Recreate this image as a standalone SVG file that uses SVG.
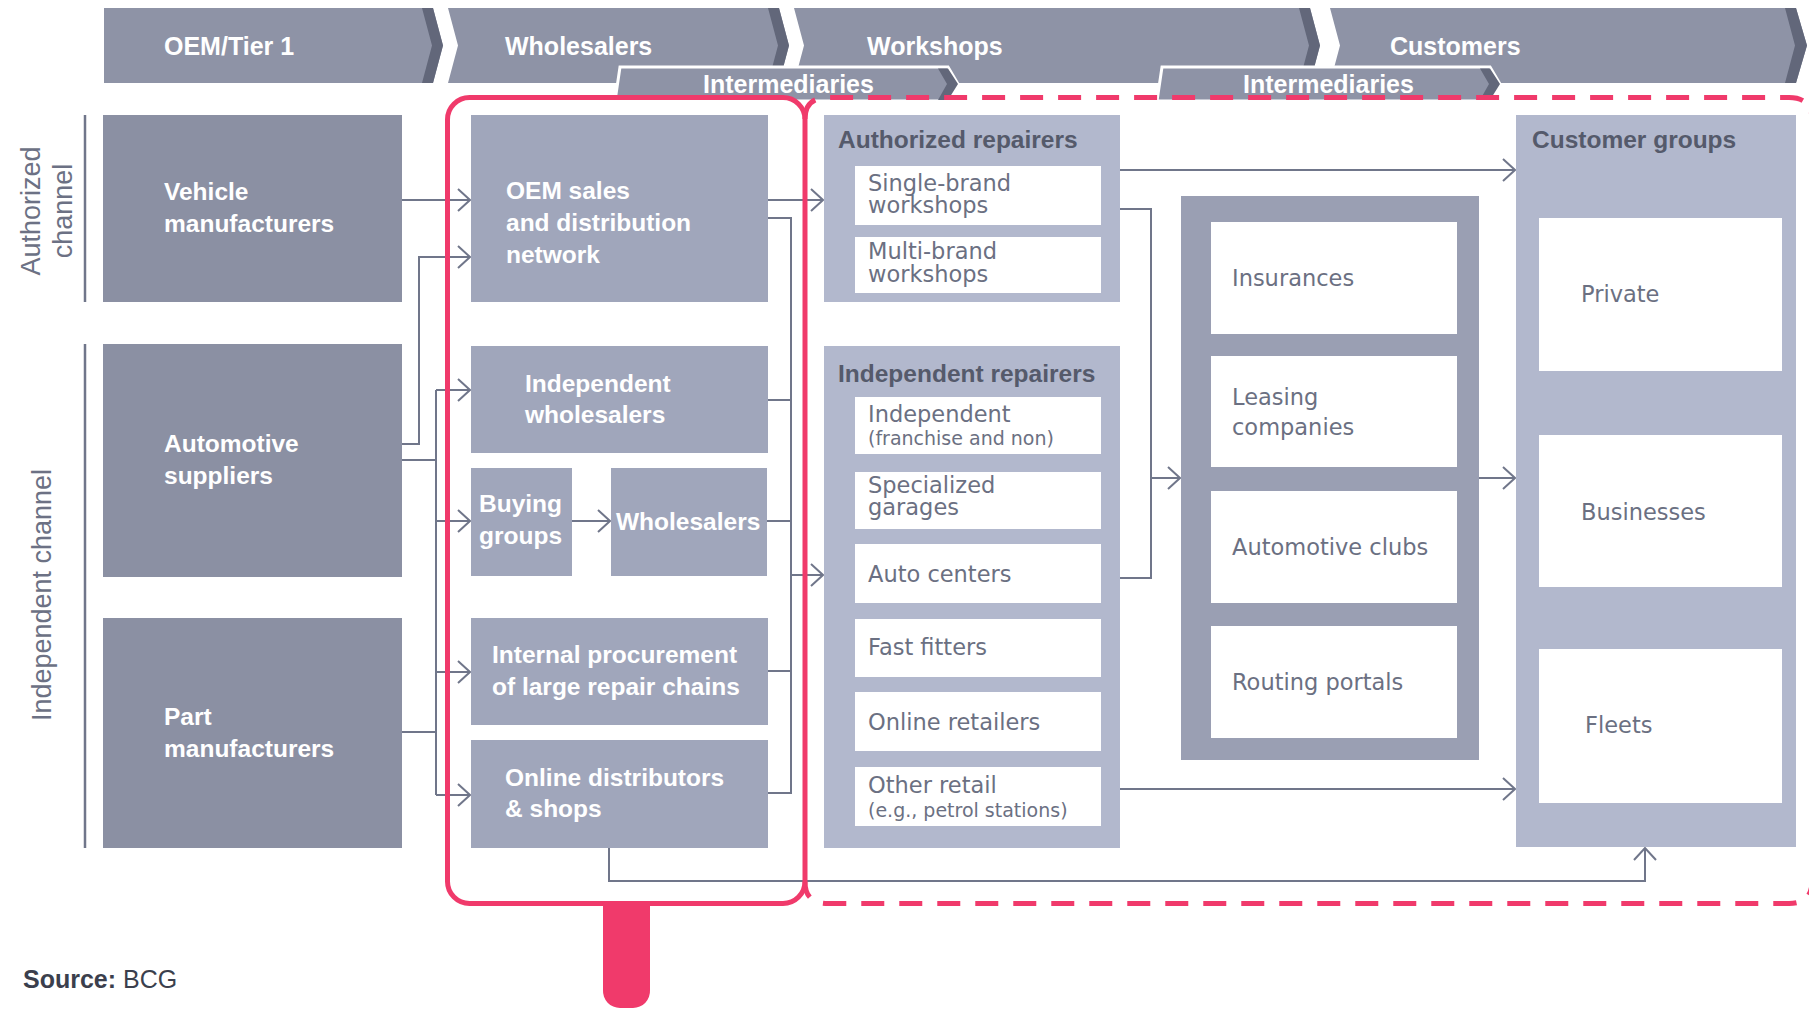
<svg xmlns="http://www.w3.org/2000/svg" width="1809" height="1009" viewBox="0 0 1809 1009">
<defs>
<marker id="arr" viewBox="0 0 14 24" markerWidth="14" markerHeight="24" refX="13" refY="12" orient="auto" markerUnits="userSpaceOnUse">
<path d="M1,1 L13,12 L1,23" fill="none" stroke="#70768a" stroke-width="2"/>
</marker>
<style>
.bar{fill:#8e93a6}
.band{fill:#62677a}
.sub{fill:#8e93a6;stroke:#ffffff;stroke-width:3}
.dark{fill:#8b90a3}
.mid{fill:#a0a6bb}
.panel{fill:#b2b8cd}
.frame{fill:#9a9fb3}
.wbox{fill:#ffffff}
.hd{font-family:"Liberation Sans",Arial,sans-serif;font-weight:bold;font-size:25px;fill:#ffffff}
.wl{font-family:"Liberation Sans",Arial,sans-serif;font-weight:bold;font-size:24.5px;fill:#ffffff}
.tt{font-family:"Liberation Sans",Arial,sans-serif;font-weight:bold;font-size:24.5px;fill:#555a6b}
.lt{font-family:"DejaVu Sans",Verdana,sans-serif;font-size:22.5px;fill:#6b7082}
.sm{font-family:"DejaVu Sans",Verdana,sans-serif;font-size:19px;fill:#6b7082}
.rot{font-family:"Liberation Sans",Arial,sans-serif;font-size:27px;fill:#6c7184}
.ln{fill:none;stroke:#70768a;stroke-width:2}
.ar{marker-end:url(#arr)}
.red{fill:none;stroke:#f03a6b;stroke-width:5}
</style>
</defs>
<rect width="1809" height="1009" fill="#ffffff"/>

<g id="header">
<g id="h-oem">
<polygon class="bar" points="104,8 433,8 443,45.5 433,83 104,83"/>
<polygon class="band" points="422,8 433,8 443,45.5 433,83 422,83 432,45.5"/>
<text class="hd" x="164" y="55">OEM/Tier 1</text>
</g>
<g id="h-wholesalers">
<polygon class="bar" points="448,8 779,8 789,45.5 779,83 448,83 458,45.5"/>
<polygon class="band" points="768,8 779,8 789,45.5 779,83 768,83 778,45.5"/>
<text class="hd" x="505" y="55">Wholesalers</text>
</g>
<g id="h-workshops">
<polygon class="bar" points="794,8 1310,8 1320,45.5 1310,83 794,83 804,45.5"/>
<polygon class="band" points="1299,8 1310,8 1320,45.5 1310,83 1299,83 1309,45.5"/>
<text class="hd" x="867" y="55">Workshops</text>
</g>
<g id="h-customers">
<polygon class="bar" points="1330,8 1796,8 1807,45.5 1796,83 1330,83 1340,45.5"/>
<polygon class="band" points="1785,8 1796,8 1807,45.5 1796,83 1785,83 1795,45.5"/>
<text class="hd" x="1390" y="55">Customers</text>
</g>
<g id="h-inter1">
<polygon class="sub" points="620,67 948,67 958,84 948,101 615,101"/>
<polygon class="band" points="938,68.5 948,68.5 958,84 948,100 938,100 947,84"/>
<text class="hd" x="703" y="93">Intermediaries</text>
</g>
<g id="h-inter2">
<polygon class="sub" points="1162,67 1490,67 1500,84 1490,101 1157,101"/>
<polygon class="band" points="1480,68.5 1490,68.5 1500,84 1490,100 1480,100 1489,84"/>
<text class="hd" x="1243" y="93">Intermediaries</text>
</g>
</g>

<g id="channel-labels">
<line x1="85" y1="115" x2="85" y2="302" stroke="#70768a" stroke-width="2.5"/>
<line x1="85" y1="344" x2="85" y2="848" stroke="#70768a" stroke-width="2.5"/>
<text class="rot" text-anchor="middle" transform="translate(40,211) rotate(-90)">Authorized</text>
<text class="rot" text-anchor="middle" transform="translate(72,211) rotate(-90)">channel</text>
<text class="rot" text-anchor="middle" transform="translate(51,595) rotate(-90)">Independent channel</text>
</g>

<g id="vehicle-manufacturers">
<rect class="dark" x="103" y="115" width="299" height="187"/>
<text class="wl" x="164" y="200">Vehicle</text>
<text class="wl" x="164" y="232">manufacturers</text>
</g>
<g id="automotive-suppliers">
<rect class="dark" x="103" y="344" width="299" height="233"/>
<text class="wl" x="164" y="452">Automotive</text>
<text class="wl" x="164" y="484">suppliers</text>
</g>
<g id="part-manufacturers">
<rect class="dark" x="103" y="618" width="299" height="230"/>
<text class="wl" x="164" y="725">Part</text>
<text class="wl" x="164" y="757">manufacturers</text>
</g>

<g id="oem-sales">
<rect class="mid" x="471" y="115" width="297" height="187"/>
<text class="wl" x="506" y="199">OEM sales</text>
<text class="wl" x="506" y="231">and distribution</text>
<text class="wl" x="506" y="263">network</text>
</g>
<g id="independent-wholesalers">
<rect class="mid" x="471" y="346" width="297" height="107"/>
<text class="wl" x="525" y="392">Independent</text>
<text class="wl" x="525" y="423">wholesalers</text>
</g>
<g id="buying-groups">
<rect class="mid" x="471" y="468" width="101" height="108"/>
<text class="wl" x="479" y="512">Buying</text>
<text class="wl" x="479" y="544">groups</text>
</g>
<g id="wholesalers">
<rect class="mid" x="611" y="468" width="156" height="108"/>
<text class="wl" x="616" y="530">Wholesalers</text>
</g>
<g id="internal-procurement">
<rect class="mid" x="471" y="618" width="297" height="107"/>
<text class="wl" x="492" y="663">Internal procurement</text>
<text class="wl" x="492" y="695">of large repair chains</text>
</g>
<g id="online-distributors">
<rect class="mid" x="471" y="740" width="297" height="108"/>
<text class="wl" x="505" y="786">Online distributors</text>
<text class="wl" x="505" y="817">&amp; shops</text>
</g>

<g id="authorized-repairers">
<rect class="panel" x="824" y="115" width="296" height="187"/>
<text class="tt" x="838" y="148">Authorized repairers</text>
<rect class="wbox" x="855" y="166" width="246" height="59"/>
<text class="lt" x="868" y="191">Single-brand</text>
<text class="lt" x="868" y="213">workshops</text>
<rect class="wbox" x="855" y="237" width="246" height="56"/>
<text class="lt" x="868" y="259">Multi-brand</text>
<text class="lt" x="868" y="282">workshops</text>
</g>
<g id="independent-repairers">
<rect class="panel" x="824" y="346" width="296" height="502"/>
<text class="tt" x="838" y="382">Independent repairers</text>
<rect class="wbox" x="855" y="397" width="246" height="57"/>
<text class="lt" x="868" y="422">Independent</text>
<text class="sm" x="868" y="445">(franchise and non)</text>
<rect class="wbox" x="855" y="472" width="246" height="57"/>
<text class="lt" x="868" y="493">Specialized</text>
<text class="lt" x="868" y="515">garages</text>
<rect class="wbox" x="855" y="544" width="246" height="59"/>
<text class="lt" x="868" y="582">Auto centers</text>
<rect class="wbox" x="855" y="619" width="246" height="58"/>
<text class="lt" x="868" y="655">Fast fitters</text>
<rect class="wbox" x="855" y="692" width="246" height="59"/>
<text class="lt" x="868" y="730">Online retailers</text>
<rect class="wbox" x="855" y="767" width="246" height="59"/>
<text class="lt" x="868" y="793">Other retail</text>
<text class="sm" x="868" y="817">(e.g., petrol stations)</text>
</g>

<g id="intermediaries">
<rect class="frame" x="1181" y="196" width="298" height="564"/>
<rect class="wbox" x="1211" y="222" width="246" height="112"/>
<text class="lt" x="1232" y="286">Insurances</text>
<rect class="wbox" x="1211" y="356" width="246" height="111"/>
<text class="lt" x="1232" y="405">Leasing</text>
<text class="lt" x="1232" y="435">companies</text>
<rect class="wbox" x="1211" y="491" width="246" height="112"/>
<text class="lt" x="1232" y="555">Automotive clubs</text>
<rect class="wbox" x="1211" y="626" width="246" height="112"/>
<text class="lt" x="1232" y="690">Routing portals</text>
</g>

<g id="customer-groups">
<rect class="panel" x="1516" y="115" width="280" height="732"/>
<text class="tt" x="1532" y="148">Customer groups</text>
<rect class="wbox" x="1539" y="218" width="243" height="153"/>
<text class="lt" x="1581" y="302">Private</text>
<rect class="wbox" x="1539" y="435" width="243" height="152"/>
<text class="lt" x="1581" y="520">Businesses</text>
<rect class="wbox" x="1539" y="649" width="243" height="154"/>
<text class="lt" x="1585" y="733">Fleets</text>
</g>

<g id="connectors">
<path class="ln ar" d="M402,200 H470"/>
<path class="ln ar" d="M402,444 H419 V257 H470"/>
<path class="ln" d="M402,460 H436"/>
<path class="ln" d="M402,732 H436"/>
<path class="ln" d="M436,390 V795"/>
<path class="ln ar" d="M436,390 H470"/>
<path class="ln ar" d="M436,521 H470"/>
<path class="ln ar" d="M436,672 H470"/>
<path class="ln ar" d="M436,795 H470"/>
<path class="ln ar" d="M572,521 H610"/>
<path class="ln ar" d="M768,200 H823"/>
<path class="ln" d="M768,218 H791 V793 H768"/>
<path class="ln" d="M768,400 H791"/>
<path class="ln" d="M767,521 H791"/>
<path class="ln" d="M768,671 H791"/>
<path class="ln ar" d="M791,575 H823"/>
<path class="ln ar" d="M1120,170 H1515"/>
<path class="ln" d="M1120,209 H1151 V578 H1120"/>
<path class="ln ar" d="M1151,478 H1180"/>
<path class="ln ar" d="M1479,478 H1515"/>
<path class="ln ar" d="M1120,789 H1515"/>
<path class="ln ar" d="M609,848 V881 H1645 V848"/>
</g>

<g id="highlight">
<rect class="red" x="447.5" y="97.5" width="357.5" height="806" rx="22"/>
<path class="red" stroke-dasharray="23 15" d="M805,119 Q805,97.5 828,97.5 H1789 Q1812,97.5 1812,120 V881 Q1812,903.5 1789,903.5 H828 Q805,903.5 805,882"/>
<path d="M603,905 V990 A17,17 0 0 0 620,1008 H633 A17,17 0 0 0 650,990 V905 Z" fill="#f03a6b"/>
</g>

<text x="23" y="988" font-family="Liberation Sans, Arial, sans-serif" font-size="25" fill="#3b3f4d"><tspan font-weight="bold">Source:</tspan> BCG</text>
</svg>
